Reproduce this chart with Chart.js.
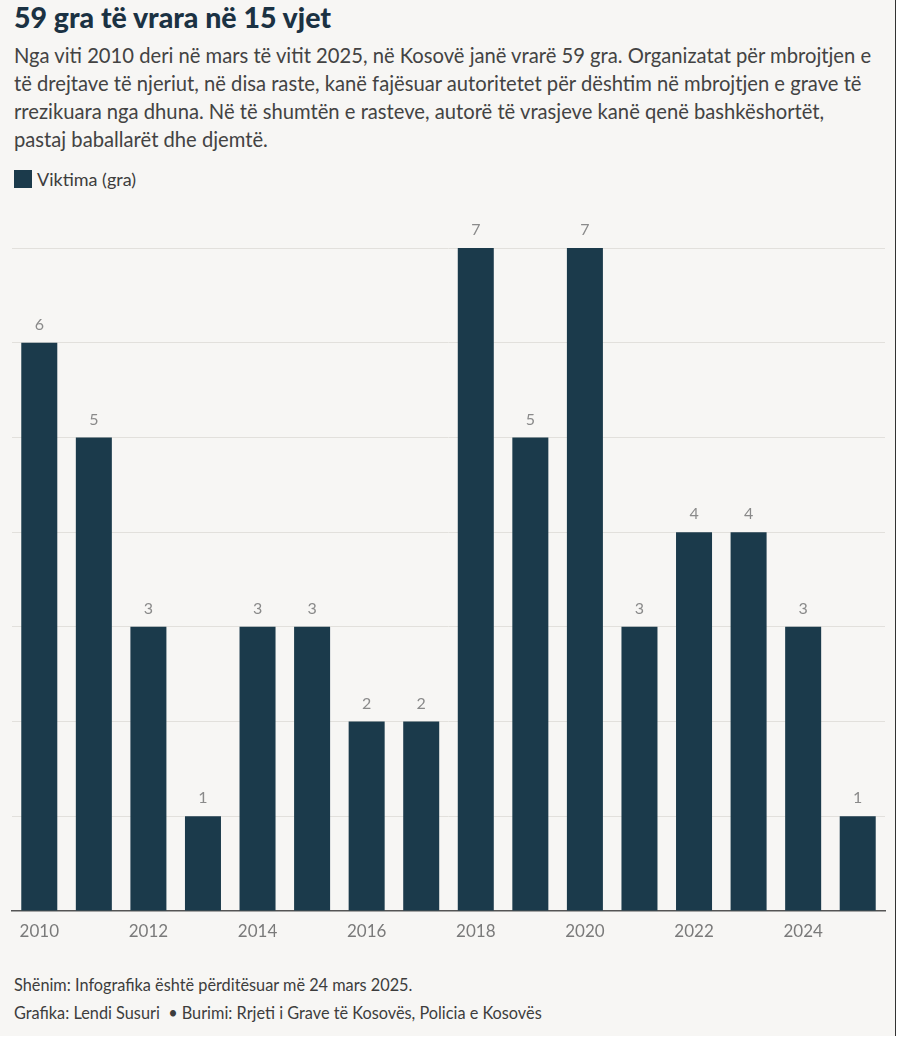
<!DOCTYPE html>
<html>
<head>
<meta charset="utf-8">
<script src="https://cdn.jsdelivr.net/npm/chart.js@4"></script>
<style>
  html, body { margin: 0; padding: 0; background: #fff; }
  #page {
    position: relative; width: 895px; height: 1036px;
    background: #f7f6f4; border-right: 1.5px solid #333;
    font-family: Lato, "Open Sans", sans-serif; color: #3d3d3d;
  }
  h1 {
    position: absolute; left: 14px; top: 0px; margin: 0;
    font-size: 28.5px; font-weight: 900; color: #1b3243; line-height: 34px;
  }
  .desc {
    position: absolute; left: 14px; top: 41px; margin: 0;
    font-size: 20.2px; line-height: 28px; white-space: nowrap; color: #434343;
  }
  .legend {
    position: absolute; left: 14px; top: 168px; font-size: 18px; color: #3d3d3d;
    display: flex; align-items: center;
  }
  .legend span.box { width: 18px; height: 18px; background: #1b3a4b; margin-right: 5px; display: inline-block; }
  .note { position: absolute; left: 14px; font-size: 16.3px; color: #3d3d3d; white-space: nowrap; }
  #wrap { position: absolute; left: 0; top: 200px; width: 895px; height: 750px; }
</style>
</head>
<body>
<div id="page">
  <h1>59 gra të vrara në 15 vjet</h1>
  <p class="desc">Nga viti 2010 deri në mars të vitit 2025, në Kosovë janë vrarë 59 gra. Organizatat për mbrojtjen e<br>të drejtave të njeriut, në disa raste, kanë fajësuar autoritetet për dështim në mbrojtjen e grave të<br>rrezikuara nga dhuna. Në të shumtën e rasteve, autorë të vrasjeve kanë qenë bashkëshortët,<br>pastaj baballarët dhe djemtë.</p>
  <div class="legend"><span class="box"></span>Viktima (gra)</div>
  <div id="wrap"><canvas id="chart"></canvas></div>
  <div class="note" style="top: 975px;">Shënim: Infografika është përditësuar më 24 mars 2025.</div>
  <div class="note" style="top: 1003px;">Grafika: Lendi Susuri &nbsp;• Burimi: Rrjeti i Grave të Kosovës, Policia e Kosovës</div>
</div>
<script>
  // vitet dhe numri i viktimave
  const years = ["2010","2011","2012","2013","2014","2015","2016","2017","2018","2019","2020","2021","2022","2023","2024","2025"];
  const victims = [6, 5, 3, 1, 3, 3, 2, 2, 7, 5, 7, 3, 4, 4, 3, 1];
  const yTicks = [0, 1, 2, 3, 4, 5, 6, 7];

  // vlerat mbi shtyllat
  const valueLabels = {
    id: "valueLabels",
    afterDatasetsDraw(chart) {
      const ctx = chart.ctx;
      const meta = chart.getDatasetMeta(0);
      ctx.save();
      ctx.font = "16px Lato, sans-serif";
      ctx.fillStyle = "#8a8a8a";
      ctx.textAlign = "center";
      ctx.textBaseline = "middle";
      meta.data.forEach((bar, i) => {
        ctx.fillText(String(victims[i]), bar.x, bar.y - 18);
      });
      ctx.restore();
    }
  };

  new Chart(document.getElementById("chart"), {
    type: "bar",
    data: {
      labels: years,
      datasets: [{
        label: "Viktima (gra)",
        data: victims,
        backgroundColor: "#1b3a4b",
        barPercentage: 1,
        categoryPercentage: 0.66
      }]
    },
    options: {
      responsive: true,
      maintainAspectRatio: false,
      animation: false,
      layout: { padding: { left: 12, right: 10, top: 48, bottom: 0 } },
      plugins: {
        legend: { display: false },
        tooltip: { enabled: false }
      },
      scales: {
        x: {
          grid: { display: false, drawTicks: false },
          border: { display: true, color: "#555", width: 1.5 },
          ticks: {
            autoSkip: false,
            maxRotation: 0,
            padding: 10,
            color: "#7a7a7a",
            font: { size: 17, family: "Lato, sans-serif" },
            callback: (v, i) => (i % 2 === 0 ? years[i] : "")
          },
          afterFit: s => { s.height = 39; }
        },
        y: {
          min: 0,
          max: 7,
          afterBuildTicks: s => { s.ticks = yTicks.map(v => ({ value: v })); },
          ticks: { display: false },
          border: { display: false },
          grid: {
            drawTicks: false,
            color: ctx => (ctx.tick && ctx.tick.value === 0 ? "rgba(0,0,0,0)" : "#e2e0dc"),
            lineWidth: 1
          },
          afterFit: s => { s.width = 0; }
        }
      }
    },
    plugins: [valueLabels]
  });
</script>
</body>
</html>
